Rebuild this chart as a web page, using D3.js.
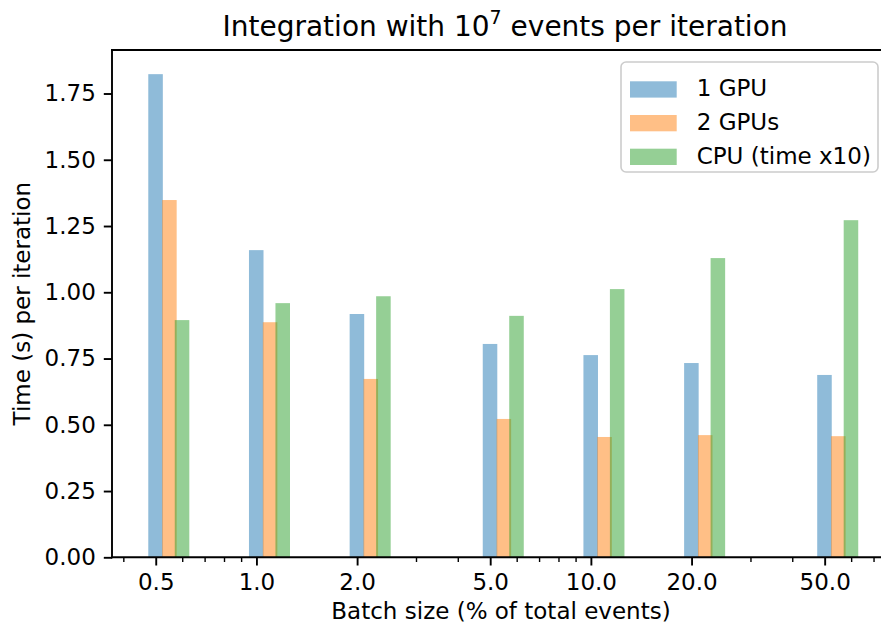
<!DOCTYPE html>
<html>
<head>
<meta charset="utf-8">
<script src="https://cdn.jsdelivr.net/npm/d3@7"></script>
<style>
  body { margin: 0; background: #fff; overflow: hidden; }
  svg { display: block; }
  text { font-family: "DejaVu Sans", sans-serif; fill: #000; }
</style>
</head>
<body>
<script>
var width = 881, height = 628,
  plot = {left: 112, right: 890, top: 50, bottom: 557.3};

// batch size (% of total events) and timings per iteration
var batches = [0.5, 1.0, 2.0, 5.0, 10.0, 20.0, 50.0];
var tickLabels = ["0.5", "1.0", "2.0", "5.0", "10.0", "20.0", "50.0"];
var gpu1 = [1.823, 1.159, 0.918, 0.805, 0.763, 0.733, 0.688];
var gpu2 = [1.348, 0.887, 0.673, 0.522, 0.454, 0.461, 0.457];
var cpu10 = [0.895, 0.959, 0.985, 0.911, 1.012, 1.129, 1.272];
var seriesNames = ["1 GPU", "2 GPUs", "CPU (time x10)"];
var colors = ["#1f77b4", "#ff7f0e", "#2ca02c"];
var shift = [1.0, 1.1, 1.2]; // bar centre = x * shift, width = 0.1 * x * shift

var series = [gpu1, gpu2, cpu10];

var svg = d3.select("body").append("svg")
  .attr("width", width)
  .attr("height", height);

var x = d3.scaleLog()
  .domain([0.37, 78.4])
  .range([plot.left, plot.right]);

var ymax = d3.max(series, (s) => d3.max(s)) * 1.05;
var y = d3.scaleLinear()
  .domain([0, ymax])
  .range([plot.bottom, plot.top]);

// bars
series.forEach((vals, si) => {
  svg.append("g").selectAll("rect")
    .data(vals.map((v, i) => ({x: batches[i] * shift[si], v: v})))
    .enter()
    .append("rect")
    .attr("x", (d) => x(d.x - 0.05 * d.x))
    .attr("width", (d) => x(d.x + 0.05 * d.x) - x(d.x - 0.05 * d.x))
    .attr("y", (d) => y(d.v))
    .attr("height", (d) => y(0) - y(d.v))
    .attr("fill", colors[si])
    .attr("fill-opacity", 0.5);
});

// x axis, majors + minors
var majors = batches;
var minors = x.ticks().filter((t) => !majors.some((m) => Math.abs(m - t) < 1e-9));

var xAxis = svg.append("g")
  .attr("transform", "translate(0," + plot.bottom + ")")
  .call(d3.axisBottom(x).tickValues(majors)
    .tickFormat((d, i) => tickLabels[i])
    .tickSize(8.2).tickPadding(8));
xAxis.select(".domain").remove();
xAxis.selectAll("line").attr("stroke-width", 1.9);
xAxis.selectAll("text").style("font-size", "23px").attr("font-family", "DejaVu Sans");

var xMinor = svg.append("g")
  .attr("transform", "translate(0," + plot.bottom + ")")
  .call(d3.axisBottom(x).tickValues(minors).tickFormat("").tickSize(4.7));
xMinor.select(".domain").remove();
xMinor.selectAll("line").attr("stroke-width", 1.4);

var yAxis = svg.append("g")
  .attr("transform", "translate(" + plot.left + ",0)")
  .call(d3.axisLeft(y).tickValues(d3.range(0, 1.76, 0.25))
    .tickFormat(d3.format(".2f"))
    .tickSize(8.2).tickPadding(8));
yAxis.select(".domain").remove();
yAxis.selectAll("line").attr("stroke-width", 1.9);
yAxis.selectAll("text").style("font-size", "23px").attr("font-family", "DejaVu Sans");

// spines (right one falls outside the picture)
var spines = [
  [plot.left, plot.top, plot.left, plot.bottom],
  [plot.left, plot.bottom, plot.right, plot.bottom],
  [plot.left, plot.top, plot.right, plot.top]
];
svg.append("g").selectAll("line")
  .data(spines)
  .enter()
  .append("line")
  .attr("x1", (d) => d[0]).attr("y1", (d) => d[1])
  .attr("x2", (d) => d[2]).attr("y2", (d) => d[3])
  .attr("stroke", "#000")
  .attr("stroke-width", 1.9)
  .attr("stroke-linecap", "square");

// title
var title = svg.append("text")
  .attr("x", 505)
  .attr("y", 36)
  .attr("text-anchor", "middle")
  .style("font-size", "28px");
title.append("tspan").text("Integration with 10");
title.append("tspan").text("7").style("font-size", "19px").attr("dy", -12);
title.append("tspan").text(" events per iteration").attr("dy", 12);

// axis labels
svg.append("text")
  .attr("x", (plot.left + plot.right) / 2)
  .attr("y", 619)
  .attr("text-anchor", "middle")
  .style("font-size", "23px")
  .text("Batch size (% of total events)");

svg.append("text")
  .attr("transform", "translate(30," + ((plot.top + plot.bottom) / 2) + ") rotate(-90)")
  .attr("text-anchor", "middle")
  .style("font-size", "23px")
  .text("Time (s) per iteration");

// legend
var legend = svg.append("g").attr("transform", "translate(621,62)");
legend.append("rect")
  .attr("width", 257)
  .attr("height", 110)
  .attr("rx", 5)
  .attr("fill", "#fff")
  .attr("fill-opacity", 0.8)
  .attr("stroke", "#cccccc")
  .attr("stroke-width", 1.6);

seriesNames.forEach((name, i) => {
  var row = legend.append("g").attr("transform", "translate(0," + (19.3 + i * 33.7) + ")");
  row.append("rect")
    .attr("x", 9)
    .attr("y", 0)
    .attr("width", 46.7)
    .attr("height", 16.3)
    .attr("fill", colors[i])
    .attr("fill-opacity", 0.5);
  row.append("text")
    .attr("x", 75.7)
    .attr("y", 15)
    .style("font-size", "23px")
    .text(name);
});
</script>
</body>
</html>
